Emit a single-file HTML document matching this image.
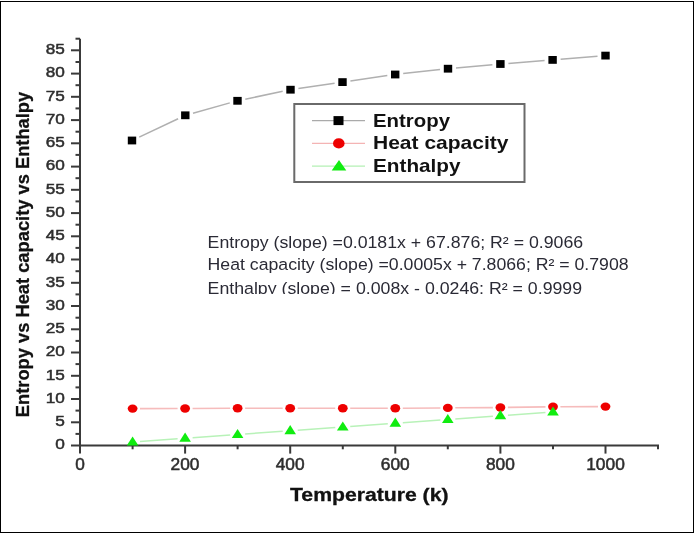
<!DOCTYPE html><html><head><meta charset="utf-8"><style>html,body{margin:0;padding:0;background:#fff}svg{display:block}</style></head><body>
<svg width="695" height="533" viewBox="0 0 695 533">
<rect width="695" height="533" fill="#fff"/>
<g>
<g fill="#000"><rect x="0" y="1" width="694" height="1"/><rect x="0" y="1" width="1" height="532"/><rect x="693" y="1" width="1" height="532"/><rect x="0" y="532" width="694" height="1"/></g>
<g stroke="#3a3a3a" stroke-width="2" fill="none">
<line x1="80" y1="38.7" x2="80" y2="446.5"/>
<line x1="79" y1="445.5" x2="659.0" y2="445.5"/>
<line x1="71" y1="445.5" x2="80" y2="445.5"/>
<line x1="75.5" y1="433.9" x2="80" y2="433.9"/>
<line x1="71" y1="422.3" x2="80" y2="422.3"/>
<line x1="75.5" y1="410.6" x2="80" y2="410.6"/>
<line x1="71" y1="399.0" x2="80" y2="399.0"/>
<line x1="75.5" y1="387.4" x2="80" y2="387.4"/>
<line x1="71" y1="375.8" x2="80" y2="375.8"/>
<line x1="75.5" y1="364.1" x2="80" y2="364.1"/>
<line x1="71" y1="352.5" x2="80" y2="352.5"/>
<line x1="75.5" y1="340.9" x2="80" y2="340.9"/>
<line x1="71" y1="329.3" x2="80" y2="329.3"/>
<line x1="75.5" y1="317.7" x2="80" y2="317.7"/>
<line x1="71" y1="306.0" x2="80" y2="306.0"/>
<line x1="75.5" y1="294.4" x2="80" y2="294.4"/>
<line x1="71" y1="282.8" x2="80" y2="282.8"/>
<line x1="75.5" y1="271.2" x2="80" y2="271.2"/>
<line x1="71" y1="259.5" x2="80" y2="259.5"/>
<line x1="75.5" y1="247.9" x2="80" y2="247.9"/>
<line x1="71" y1="236.3" x2="80" y2="236.3"/>
<line x1="75.5" y1="224.7" x2="80" y2="224.7"/>
<line x1="71" y1="213.1" x2="80" y2="213.1"/>
<line x1="75.5" y1="201.4" x2="80" y2="201.4"/>
<line x1="71" y1="189.8" x2="80" y2="189.8"/>
<line x1="75.5" y1="178.2" x2="80" y2="178.2"/>
<line x1="71" y1="166.6" x2="80" y2="166.6"/>
<line x1="75.5" y1="154.9" x2="80" y2="154.9"/>
<line x1="71" y1="143.3" x2="80" y2="143.3"/>
<line x1="75.5" y1="131.7" x2="80" y2="131.7"/>
<line x1="71" y1="120.1" x2="80" y2="120.1"/>
<line x1="75.5" y1="108.4" x2="80" y2="108.4"/>
<line x1="71" y1="96.8" x2="80" y2="96.8"/>
<line x1="75.5" y1="85.2" x2="80" y2="85.2"/>
<line x1="71" y1="73.6" x2="80" y2="73.6"/>
<line x1="75.5" y1="62.0" x2="80" y2="62.0"/>
<line x1="71" y1="50.3" x2="80" y2="50.3"/>
<line x1="75.5" y1="38.7" x2="80" y2="38.7"/>
<line x1="80.0" y1="445.5" x2="80.0" y2="453.6"/>
<line x1="132.6" y1="445.5" x2="132.6" y2="449.3"/>
<line x1="185.1" y1="445.5" x2="185.1" y2="453.6"/>
<line x1="237.6" y1="445.5" x2="237.6" y2="449.3"/>
<line x1="290.2" y1="445.5" x2="290.2" y2="453.6"/>
<line x1="342.8" y1="445.5" x2="342.8" y2="449.3"/>
<line x1="395.3" y1="445.5" x2="395.3" y2="453.6"/>
<line x1="447.8" y1="445.5" x2="447.8" y2="449.3"/>
<line x1="500.4" y1="445.5" x2="500.4" y2="453.6"/>
<line x1="553.0" y1="445.5" x2="553.0" y2="449.3"/>
<line x1="605.5" y1="445.5" x2="605.5" y2="453.6"/>
<line x1="658.0" y1="445.5" x2="658.0" y2="449.3"/>
</g>
<g font-family="Liberation Sans, Arial, sans-serif" font-size="15.5" fill="#2e2e2e" stroke="#2e2e2e" stroke-width="0.5">
<text x="55.3" y="449.3" font-size="15.1" textLength="9.6" lengthAdjust="spacingAndGlyphs">0</text>
<text x="55.3" y="426.1" font-size="15.1" textLength="9.6" lengthAdjust="spacingAndGlyphs">5</text>
<text x="45.8" y="402.8" font-size="15.1" textLength="19.1" lengthAdjust="spacingAndGlyphs">10</text>
<text x="45.8" y="379.6" font-size="15.1" textLength="19.1" lengthAdjust="spacingAndGlyphs">15</text>
<text x="45.8" y="356.3" font-size="15.1" textLength="19.1" lengthAdjust="spacingAndGlyphs">20</text>
<text x="45.8" y="333.1" font-size="15.1" textLength="19.1" lengthAdjust="spacingAndGlyphs">25</text>
<text x="45.8" y="309.8" font-size="15.1" textLength="19.1" lengthAdjust="spacingAndGlyphs">30</text>
<text x="45.8" y="286.6" font-size="15.1" textLength="19.1" lengthAdjust="spacingAndGlyphs">35</text>
<text x="45.8" y="263.3" font-size="15.1" textLength="19.1" lengthAdjust="spacingAndGlyphs">40</text>
<text x="45.8" y="240.1" font-size="15.1" textLength="19.1" lengthAdjust="spacingAndGlyphs">45</text>
<text x="45.8" y="216.9" font-size="15.1" textLength="19.1" lengthAdjust="spacingAndGlyphs">50</text>
<text x="45.8" y="193.6" font-size="15.1" textLength="19.1" lengthAdjust="spacingAndGlyphs">55</text>
<text x="45.8" y="170.4" font-size="15.1" textLength="19.1" lengthAdjust="spacingAndGlyphs">60</text>
<text x="45.8" y="147.1" font-size="15.1" textLength="19.1" lengthAdjust="spacingAndGlyphs">65</text>
<text x="45.8" y="123.9" font-size="15.1" textLength="19.1" lengthAdjust="spacingAndGlyphs">70</text>
<text x="45.8" y="100.6" font-size="15.1" textLength="19.1" lengthAdjust="spacingAndGlyphs">75</text>
<text x="45.8" y="77.4" font-size="15.1" textLength="19.1" lengthAdjust="spacingAndGlyphs">80</text>
<text x="45.8" y="54.1" font-size="15.1" textLength="19.1" lengthAdjust="spacingAndGlyphs">85</text>
<text x="75.2" y="470.2" font-size="16.2" textLength="9.6" lengthAdjust="spacingAndGlyphs">0</text>
<text x="170.6" y="470.2" font-size="16.2" textLength="28.9" lengthAdjust="spacingAndGlyphs">200</text>
<text x="275.7" y="470.2" font-size="16.2" textLength="28.9" lengthAdjust="spacingAndGlyphs">400</text>
<text x="380.8" y="470.2" font-size="16.2" textLength="28.9" lengthAdjust="spacingAndGlyphs">600</text>
<text x="485.9" y="470.2" font-size="16.2" textLength="28.9" lengthAdjust="spacingAndGlyphs">800</text>
<text x="586.2" y="470.2" font-size="16.2" textLength="38.6" lengthAdjust="spacingAndGlyphs">1000</text>
</g>
<line x1="139.2" y1="137.1" x2="178.1" y2="118.7" stroke="#b0b0b0" stroke-width="1.5"/>
<line x1="193.0" y1="113.2" x2="229.8" y2="102.9" stroke="#b0b0b0" stroke-width="1.5"/>
<line x1="245.3" y1="99.2" x2="282.7" y2="91.3" stroke="#b0b0b0" stroke-width="1.5"/>
<line x1="298.4" y1="88.5" x2="334.6" y2="83.3" stroke="#b0b0b0" stroke-width="1.5"/>
<line x1="350.4" y1="81.0" x2="387.3" y2="75.6" stroke="#b0b0b0" stroke-width="1.5"/>
<line x1="403.2" y1="73.6" x2="440.0" y2="69.6" stroke="#b0b0b0" stroke-width="1.5"/>
<line x1="456.0" y1="68.0" x2="492.4" y2="64.7" stroke="#b0b0b0" stroke-width="1.5"/>
<line x1="508.4" y1="63.4" x2="544.6" y2="60.5" stroke="#b0b0b0" stroke-width="1.5"/>
<line x1="560.6" y1="59.3" x2="597.5" y2="56.2" stroke="#b0b0b0" stroke-width="1.5"/>
<line x1="140.0" y1="408.6" x2="177.6" y2="408.5" stroke="#f6bcbc" stroke-width="1.6"/>
<line x1="192.6" y1="408.5" x2="230.2" y2="408.3" stroke="#f6bcbc" stroke-width="1.6"/>
<line x1="245.1" y1="408.3" x2="282.7" y2="408.3" stroke="#f6bcbc" stroke-width="1.6"/>
<line x1="297.7" y1="408.3" x2="335.2" y2="408.3" stroke="#f6bcbc" stroke-width="1.6"/>
<line x1="350.2" y1="408.3" x2="387.8" y2="408.3" stroke="#f6bcbc" stroke-width="1.6"/>
<line x1="402.8" y1="408.2" x2="440.4" y2="408.0" stroke="#f6bcbc" stroke-width="1.6"/>
<line x1="455.3" y1="407.8" x2="492.9" y2="407.6" stroke="#f6bcbc" stroke-width="1.6"/>
<line x1="507.9" y1="407.4" x2="545.5" y2="406.9" stroke="#f6bcbc" stroke-width="1.6"/>
<line x1="560.4" y1="406.8" x2="598.0" y2="406.6" stroke="#f6bcbc" stroke-width="1.6"/>
<line x1="140.0" y1="441.5" x2="177.6" y2="438.8" stroke="#b8f2b8" stroke-width="1.5"/>
<line x1="192.6" y1="437.7" x2="230.2" y2="435.0" stroke="#b8f2b8" stroke-width="1.5"/>
<line x1="245.1" y1="434.0" x2="282.7" y2="431.3" stroke="#b8f2b8" stroke-width="1.5"/>
<line x1="297.7" y1="430.2" x2="335.3" y2="427.5" stroke="#b8f2b8" stroke-width="1.5"/>
<line x1="350.2" y1="426.5" x2="387.8" y2="423.8" stroke="#b8f2b8" stroke-width="1.5"/>
<line x1="402.8" y1="422.7" x2="440.4" y2="420.0" stroke="#b8f2b8" stroke-width="1.5"/>
<line x1="455.3" y1="419.0" x2="492.9" y2="416.3" stroke="#b8f2b8" stroke-width="1.5"/>
<line x1="507.9" y1="415.2" x2="545.5" y2="412.5" stroke="#b8f2b8" stroke-width="1.5"/>
<rect x="127.8" y="136.6" width="8.4" height="7.8" fill="#000"/>
<rect x="181.1" y="111.4" width="8.4" height="7.8" fill="#000"/>
<rect x="233.3" y="96.9" width="8.4" height="7.8" fill="#000"/>
<rect x="286.3" y="85.8" width="8.4" height="7.8" fill="#000"/>
<rect x="338.3" y="78.2" width="8.4" height="7.8" fill="#000"/>
<rect x="391.0" y="70.6" width="8.4" height="7.8" fill="#000"/>
<rect x="443.8" y="64.8" width="8.4" height="7.8" fill="#000"/>
<rect x="496.2" y="60.1" width="8.4" height="7.8" fill="#000"/>
<rect x="548.4" y="56.0" width="8.4" height="7.8" fill="#000"/>
<rect x="601.3" y="51.7" width="8.4" height="7.8" fill="#000"/>
<ellipse cx="132.6" cy="408.6" rx="4.9" ry="4.2" fill="#ee0000"/>
<ellipse cx="185.1" cy="408.5" rx="4.9" ry="4.2" fill="#ee0000"/>
<ellipse cx="237.6" cy="408.3" rx="4.9" ry="4.2" fill="#ee0000"/>
<ellipse cx="290.2" cy="408.3" rx="4.9" ry="4.2" fill="#ee0000"/>
<ellipse cx="342.8" cy="408.3" rx="4.9" ry="4.2" fill="#ee0000"/>
<ellipse cx="395.3" cy="408.3" rx="4.9" ry="4.2" fill="#ee0000"/>
<ellipse cx="447.8" cy="407.9" rx="4.9" ry="4.2" fill="#ee0000"/>
<ellipse cx="500.4" cy="407.5" rx="4.9" ry="4.2" fill="#ee0000"/>
<ellipse cx="553.0" cy="406.8" rx="4.9" ry="4.2" fill="#ee0000"/>
<ellipse cx="605.5" cy="406.6" rx="4.9" ry="4.2" fill="#ee0000"/>
<polygon points="132.6,436.4 138.4,445.5 126.8,445.5" fill="#10ec10"/>
<polygon points="185.1,432.6 190.9,441.8 179.3,441.8" fill="#10ec10"/>
<polygon points="237.6,428.9 243.4,438.0 231.8,438.0" fill="#10ec10"/>
<polygon points="290.2,425.1 296.0,434.2 284.4,434.2" fill="#10ec10"/>
<polygon points="342.8,421.4 348.6,430.5 336.9,430.5" fill="#10ec10"/>
<polygon points="395.3,417.6 401.1,426.8 389.5,426.8" fill="#10ec10"/>
<polygon points="447.8,413.9 453.6,423.0 442.0,423.0" fill="#10ec10"/>
<polygon points="500.4,410.1 506.2,419.2 494.6,419.2" fill="#10ec10"/>
<polygon points="553.0,406.4 558.8,415.5 547.2,415.5" fill="#10ec10"/>
<rect x="294.3" y="104" width="230.2" height="78" fill="#fff" stroke="#6a6a6a" stroke-width="2"/>
<line x1="312" y1="120.6" x2="365" y2="120.6" stroke="#aaa" stroke-width="1.3"/>
<line x1="312" y1="143.4" x2="365" y2="143.4" stroke="#f4b4b4" stroke-width="1.3"/>
<line x1="312" y1="166.2" x2="365" y2="166.2" stroke="#b4f0b4" stroke-width="1.3"/>
<rect x="333.5" y="116.1" width="10" height="9" fill="#000"/>
<ellipse cx="338.8" cy="143.4" rx="5.8" ry="5.1" fill="#ee0000"/>
<polygon points="339,160.0 346.3,170.39999999999998 331.7,170.39999999999998" fill="#10ec10"/>
<g font-family="Liberation Sans, Arial, sans-serif" font-weight="bold" font-size="18.5" fill="#111">
<text x="373" y="126.8" textLength="77" lengthAdjust="spacingAndGlyphs">Entropy</text>
<text x="373" y="149.4" textLength="135.5" lengthAdjust="spacingAndGlyphs">Heat capacity</text>
<text x="373" y="172.2" textLength="87.5" lengthAdjust="spacingAndGlyphs">Enthalpy</text>
</g>
<defs><clipPath id="eqc"><rect x="200" y="225" width="450" height="69"/></clipPath></defs>
<g clip-path="url(#eqc)" font-family="Liberation Sans, Arial, sans-serif" font-size="16.3" fill="#2a2a35">
<text x="207.6" y="247.6" textLength="375.5" lengthAdjust="spacingAndGlyphs">Entropy (slope) =0.0181x + 67.876; R² = 0.9066</text>
<text x="207.6" y="270.3" textLength="421" lengthAdjust="spacingAndGlyphs">Heat capacity (slope) =0.0005x + 7.8066; R² = 0.7908</text>
<text x="207.6" y="293.6" textLength="374.5" lengthAdjust="spacingAndGlyphs">Enthalpy (slope) = 0.008x - 0.0246; R² = 0.9999</text>
</g>
<g font-family="Liberation Sans, Arial, sans-serif" font-weight="bold" font-size="17" fill="#111" stroke="#111" stroke-width="0.3">
<text x="290" y="500.8" font-size="18" textLength="158.5" lengthAdjust="spacingAndGlyphs">Temperature (k)</text>
<text transform="translate(29.3,417.2) rotate(-90)" x="0" y="0" font-size="18.5" textLength="325.4" lengthAdjust="spacingAndGlyphs">Entropy vs Heat capacity vs Enthalpy</text>
</g>
</g>
</svg></body></html>
